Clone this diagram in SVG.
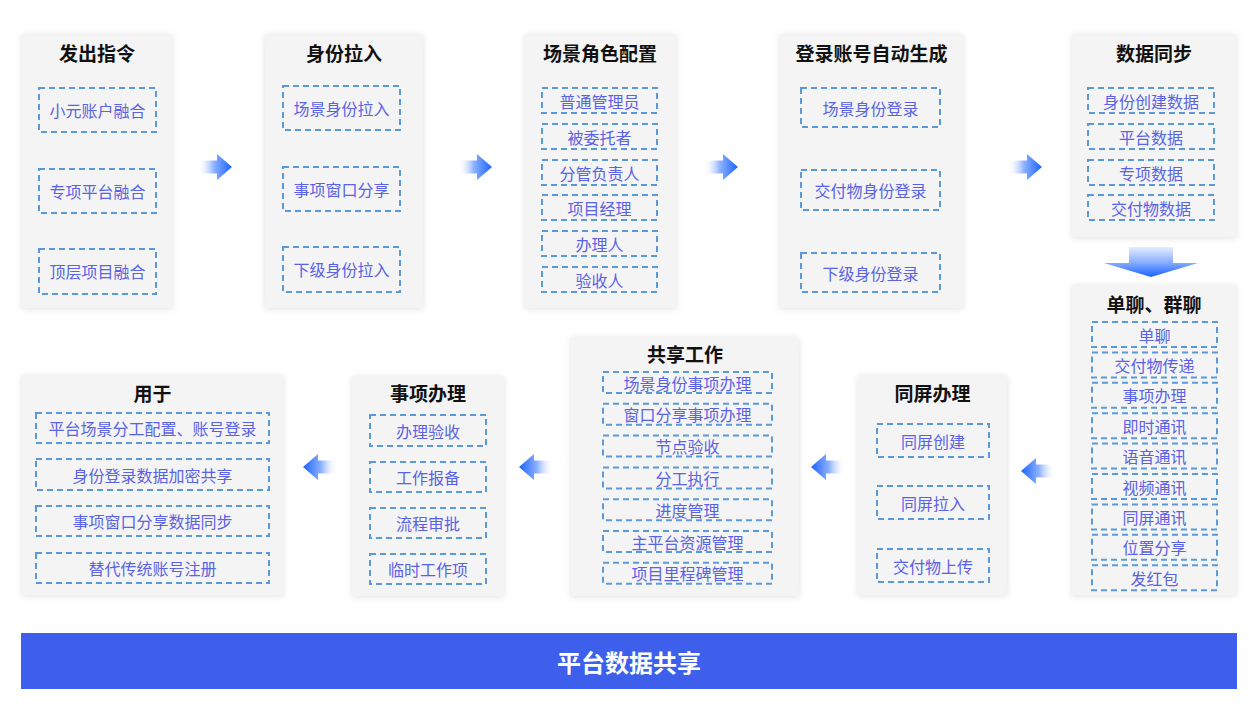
<svg xmlns="http://www.w3.org/2000/svg" width="1249" height="715" viewBox="0 0 1249 715">
<defs>
<filter id="sh" x="-10%" y="-10%" width="120%" height="120%">
<feDropShadow dx="0" dy="1" stdDeviation="3" flood-color="#000" flood-opacity="0.12"/>
</filter>
<linearGradient id="gR" x1="0" y1="0" x2="1" y2="0">
<stop offset="0" stop-color="#ffffff" stop-opacity="0.2"/>
<stop offset="0.45" stop-color="#8db2ff"/>
<stop offset="1" stop-color="#1a62ff"/>
</linearGradient>
<linearGradient id="gD" x1="0" y1="0" x2="0" y2="1">
<stop offset="0" stop-color="#e4edff"/>
<stop offset="0.5" stop-color="#8ab0ff"/>
<stop offset="1" stop-color="#1a62ff"/>
</linearGradient>
<path id="arr" d="M-33,-6.5 H-15 V-13 L0,0 L-15,13 V6.5 H-33 Z" fill="url(#gR)"/>
<style>
.panel{fill:#f4f4f4;filter:url(#sh)}
.box{fill:none;stroke:#5a9ad8;stroke-width:2;stroke-dasharray:6 4}
.t{font-family:"Noto Sans CJK SC","Noto Sans",sans-serif;font-size:19px;font-weight:bold;fill:#111;text-anchor:middle;dominant-baseline:central}
.i{font-family:"Noto Sans CJK SC","Noto Sans",sans-serif;font-size:16px;fill:#5a62e6;text-anchor:middle;dominant-baseline:central}
.b{font-family:"Noto Sans CJK SC","Noto Sans",sans-serif;font-size:24px;font-weight:bold;fill:#fff;text-anchor:middle;dominant-baseline:central}
</style>
</defs>
<rect width="1249" height="715" fill="#fff"/>

<g id="n-fachu">
<rect class="panel" x="22" y="34" width="150" height="274"/>
<text class="t" x="97" y="52">发出指令</text>
<rect class="box" x="39" y="88" width="117" height="44"/><text class="i" x="97.5" y="110">小元账户融合</text>
<rect class="box" x="39" y="169" width="117" height="44"/><text class="i" x="97.5" y="191">专项平台融合</text>
<rect class="box" x="39" y="249" width="117" height="45"/><text class="i" x="97.5" y="271">顶层项目融合</text>
</g>

<g id="n-shenfen">
<rect class="panel" x="265" y="34" width="158" height="274"/>
<text class="t" x="344" y="52">身份拉入</text>
<rect class="box" x="283" y="86" width="117" height="44"/><text class="i" x="341.5" y="108">场景身份拉入</text>
<rect class="box" x="283" y="167" width="117" height="44"/><text class="i" x="341.5" y="189">事项窗口分享</text>
<rect class="box" x="283" y="247" width="117" height="45"/><text class="i" x="341.5" y="269">下级身份拉入</text>
</g>

<g id="n-changjing">
<rect class="panel" x="525" y="34" width="151" height="274"/>
<text class="t" x="600" y="52">场景角色配置</text>
<rect class="box" x="542" y="88" width="115" height="25"/><text class="i" x="599.5" y="100.5">普通管理员</text>
<rect class="box" x="542" y="124" width="115" height="25"/><text class="i" x="599.5" y="136.5">被委托者</text>
<rect class="box" x="542" y="160" width="115" height="25"/><text class="i" x="599.5" y="172.5">分管负责人</text>
<rect class="box" x="542" y="195" width="115" height="25"/><text class="i" x="599.5" y="207.5">项目经理</text>
<rect class="box" x="542" y="231" width="115" height="25"/><text class="i" x="599.5" y="243.5">办理人</text>
<rect class="box" x="542" y="267" width="115" height="25"/><text class="i" x="599.5" y="279.5">验收人</text>
</g>

<g id="n-denglu">
<rect class="panel" x="780" y="34" width="183" height="274"/>
<text class="t" x="871.5" y="52">登录账号自动生成</text>
<rect class="box" x="801" y="88" width="139" height="39"/><text class="i" x="870.5" y="107.5">场景身份登录</text>
<rect class="box" x="801" y="170" width="139" height="40"/><text class="i" x="870.5" y="190">交付物身份登录</text>
<rect class="box" x="801" y="253" width="139" height="39"/><text class="i" x="870.5" y="272.5">下级身份登录</text>
</g>

<g id="n-shuju">
<rect class="panel" x="1072" y="34" width="164" height="203"/>
<text class="t" x="1154" y="52">数据同步</text>
<rect class="box" x="1088" y="88" width="126" height="25"/><text class="i" x="1151" y="100.5">身份创建数据</text>
<rect class="box" x="1088" y="124" width="126" height="25"/><text class="i" x="1151" y="136.5">平台数据</text>
<rect class="box" x="1088" y="160" width="126" height="25"/><text class="i" x="1151" y="172.5">专项数据</text>
<rect class="box" x="1088" y="195" width="126" height="25"/><text class="i" x="1151" y="207.5">交付物数据</text>
</g>

<g id="n-liao">
<rect class="panel" x="1072" y="285" width="164" height="310"/>
<text class="t" x="1154" y="303">单聊、群聊</text>
<rect class="box" x="1092" y="322" width="125" height="25"/><text class="i" x="1154.5" y="334.5">单聊</text>
<rect class="box" x="1092" y="352.4" width="125" height="25"/><text class="i" x="1154.5" y="364.9">交付物传递</text>
<rect class="box" x="1092" y="382.8" width="125" height="25"/><text class="i" x="1154.5" y="395.3">事项办理</text>
<rect class="box" x="1092" y="413.2" width="125" height="25"/><text class="i" x="1154.5" y="425.7">即时通讯</text>
<rect class="box" x="1092" y="443.6" width="125" height="25"/><text class="i" x="1154.5" y="456.1">语音通讯</text>
<rect class="box" x="1092" y="474" width="125" height="25"/><text class="i" x="1154.5" y="486.5">视频通讯</text>
<rect class="box" x="1092" y="504.4" width="125" height="25"/><text class="i" x="1154.5" y="516.9">同屏通讯</text>
<rect class="box" x="1092" y="534.8" width="125" height="25"/><text class="i" x="1154.5" y="547.3">位置分享</text>
<rect class="box" x="1092" y="565.2" width="125" height="25"/><text class="i" x="1154.5" y="577.7">发红包</text>
</g>

<g id="n-tongping">
<rect class="panel" x="858" y="375" width="149" height="220"/>
<text class="t" x="932.5" y="392">同屏办理</text>
<rect class="box" x="877" y="424" width="112" height="33"/><text class="i" x="933" y="440.5">同屏创建</text>
<rect class="box" x="877" y="486" width="112" height="33"/><text class="i" x="933" y="502.5">同屏拉入</text>
<rect class="box" x="877" y="549" width="112" height="33"/><text class="i" x="933" y="565.5">交付物上传</text>
</g>

<g id="n-gongxiang">
<rect class="panel" x="571" y="337" width="228" height="259"/>
<text class="t" x="685" y="353">共享工作</text>
<rect class="box" x="603" y="372" width="169" height="21"/><text class="i" x="687.5" y="382.5">场景身份事项办理</text>
<rect class="box" x="603" y="403.8" width="169" height="21"/><text class="i" x="687.5" y="414.3">窗口分享事项办理</text>
<rect class="box" x="603" y="435.6" width="169" height="21"/><text class="i" x="687.5" y="446.1">节点验收</text>
<rect class="box" x="603" y="467.4" width="169" height="21"/><text class="i" x="687.5" y="477.9">分工执行</text>
<rect class="box" x="603" y="499.2" width="169" height="21"/><text class="i" x="687.5" y="509.7">进度管理</text>
<rect class="box" x="603" y="531" width="169" height="21"/><text class="i" x="687.5" y="541.5">主平台资源管理</text>
<rect class="box" x="603" y="562.8" width="169" height="21"/><text class="i" x="687.5" y="573.3">项目里程碑管理</text>
</g>

<g id="n-shixiang">
<rect class="panel" x="352" y="376" width="152" height="220"/>
<text class="t" x="428" y="392">事项办理</text>
<rect class="box" x="370" y="415" width="116" height="31"/><text class="i" x="428" y="430.5">办理验收</text>
<rect class="box" x="370" y="462" width="116" height="30"/><text class="i" x="428" y="477">工作报备</text>
<rect class="box" x="370" y="508" width="116" height="30"/><text class="i" x="428" y="523">流程审批</text>
<rect class="box" x="370" y="554" width="116" height="30"/><text class="i" x="428" y="569">临时工作项</text>
</g>

<g id="n-yongyu">
<rect class="panel" x="22" y="375" width="261" height="220"/>
<text class="t" x="152.5" y="392">用于</text>
<rect class="box" x="36" y="413" width="233" height="30"/><text class="i" x="152.5" y="428">平台场景分工配置、账号登录</text>
<rect class="box" x="36" y="459" width="233" height="31"/><text class="i" x="152.5" y="474.5">身份登录数据加密共享</text>
<rect class="box" x="36" y="506" width="233" height="30"/><text class="i" x="152.5" y="521">事项窗口分享数据同步</text>
<rect class="box" x="36" y="553" width="233" height="30"/><text class="i" x="152.5" y="568">替代传统账号注册</text>
</g>

<g id="connectors">
<use href="#arr" transform="translate(232,167)"/>
<use href="#arr" transform="translate(492,167)"/>
<use href="#arr" transform="translate(738,167)"/>
<use href="#arr" transform="translate(1042,167)"/>
<path d="M1129,247 H1173 V263 H1198 L1151,277 L1104,263 H1129 Z" fill="url(#gD)"/>
<use href="#arr" transform="translate(1021,471) scale(-1,1)"/>
<use href="#arr" transform="translate(811,467) scale(-1,1)"/>
<use href="#arr" transform="translate(519,467) scale(-1,1)"/>
<use href="#arr" transform="translate(303,467) scale(-1,1)"/>
</g>

<g id="n-banner">
<rect x="21" y="633" width="1216" height="56" fill="#3d5fec"/>
<text class="b" x="629" y="661">平台数据共享</text>
</g>
</svg>
